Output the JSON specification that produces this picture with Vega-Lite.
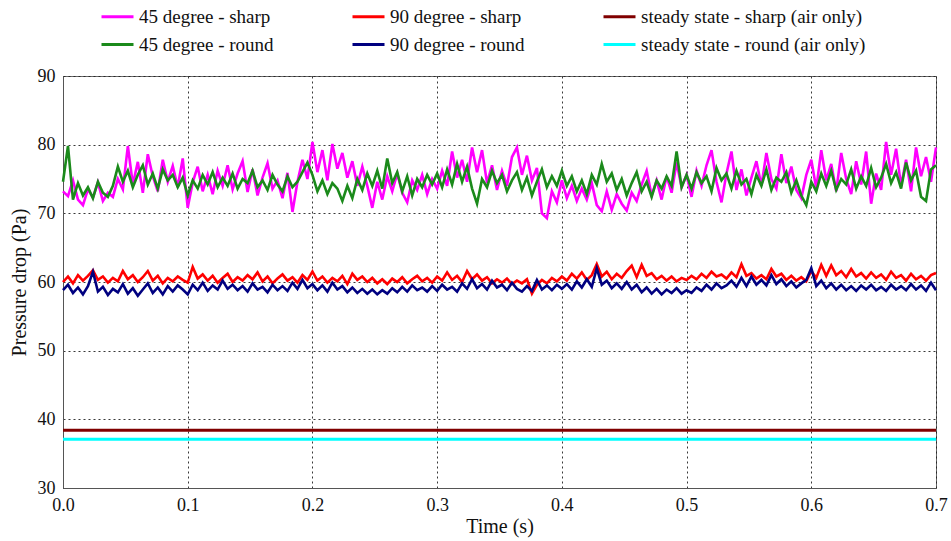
{
  "$schema": "https://vega.github.io/schema/vega-lite/v6.json",
  "width": 873,
  "height": 412,
  "autosize": {"type": "none"},
  "padding": {"left": 63, "top": 76, "right": 15, "bottom": 53},
  "background": "white",
  "config": {
    "view": {"stroke": "#666", "strokeWidth": 1},
    "font": "Liberation Serif",
    "axis": {"labelFont": "Liberation Serif", "titleFont": "Liberation Serif", "labelFontSize": 18, "titleFontSize": 20, "labelColor": "#111", "titleColor": "#111", "titleFontWeight": "normal", "domainColor": "#555", "ticks": false, "gridColor": "#222", "gridDash": [2, 3], "gridOpacity": 0.9, "gridWidth": 1}
  },
  "datasets": {
    "steady": [
      {"t": 0, "series": "steady state - sharp (air only)", "p": 38.4},
      {"t": 0.7, "series": "steady state - sharp (air only)", "p": 38.4},
      {"t": 0, "series": "steady state - round (air only)", "p": 37.1},
      {"t": 0.7, "series": "steady state - round (air only)", "p": 37.1}
    ],
    "noisy": [
{"t":0.000,"45 degree - sharp":73.2,"45 degree - round":74.6,"90 degree - sharp":60.0,"90 degree - round":58.8},
{"t":0.004,"45 degree - sharp":72.5,"45 degree - round":79.8,"90 degree - sharp":60.8,"90 degree - round":59.6},
{"t":0.008,"45 degree - sharp":74.8,"45 degree - round":72.0,"90 degree - sharp":59.8,"90 degree - round":58.4},
{"t":0.012,"45 degree - sharp":72.0,"45 degree - round":74.4,"90 degree - sharp":61.0,"90 degree - round":59.2},
{"t":0.016,"45 degree - sharp":71.2,"45 degree - round":72.6,"90 degree - sharp":60.2,"90 degree - round":58.2},
{"t":0.020,"45 degree - sharp":73.5,"45 degree - round":73.8,"90 degree - sharp":60.9,"90 degree - round":59.4},
{"t":0.024,"45 degree - sharp":72.3,"45 degree - round":72.2,"90 degree - sharp":61.7,"90 degree - round":61.5},
{"t":0.028,"45 degree - sharp":74.5,"45 degree - round":74.6,"90 degree - sharp":60.3,"90 degree - round":58.6},
{"t":0.032,"45 degree - sharp":71.8,"45 degree - round":73.0,"90 degree - sharp":60.8,"90 degree - round":59.3},
{"t":0.036,"45 degree - sharp":73.0,"45 degree - round":72.4,"90 degree - sharp":59.9,"90 degree - round":58.1},
{"t":0.040,"45 degree - sharp":72.4,"45 degree - round":74.0,"90 degree - sharp":60.6,"90 degree - round":59.0},
{"t":0.044,"45 degree - sharp":75.0,"45 degree - round":76.8,"90 degree - sharp":60.1,"90 degree - round":58.5},
{"t":0.048,"45 degree - sharp":73.5,"45 degree - round":74.6,"90 degree - sharp":61.6,"90 degree - round":59.7},
{"t":0.052,"45 degree - sharp":79.8,"45 degree - round":76.2,"90 degree - sharp":60.4,"90 degree - round":58.3},
{"t":0.056,"45 degree - sharp":74.2,"45 degree - round":73.8,"90 degree - sharp":61.0,"90 degree - round":59.1},
{"t":0.060,"45 degree - sharp":77.5,"45 degree - round":75.6,"90 degree - sharp":60.0,"90 degree - round":58.0},
{"t":0.064,"45 degree - sharp":73.0,"45 degree - round":77.0,"90 degree - sharp":60.7,"90 degree - round":58.9},
{"t":0.068,"45 degree - sharp":78.6,"45 degree - round":74.2,"90 degree - sharp":61.6,"90 degree - round":59.8},
{"t":0.072,"45 degree - sharp":75.4,"45 degree - round":75.8,"90 degree - sharp":60.2,"90 degree - round":58.4},
{"t":0.076,"45 degree - sharp":73.2,"45 degree - round":73.6,"90 degree - sharp":60.9,"90 degree - round":59.2},
{"t":0.080,"45 degree - sharp":77.8,"45 degree - round":76.4,"90 degree - sharp":59.8,"90 degree - round":58.2},
{"t":0.084,"45 degree - sharp":74.6,"45 degree - round":74.8,"90 degree - sharp":60.6,"90 degree - round":59.4},
{"t":0.088,"45 degree - sharp":76.9,"45 degree - round":75.6,"90 degree - sharp":60.1,"90 degree - round":58.6},
{"t":0.092,"45 degree - sharp":73.8,"45 degree - round":73.8,"90 degree - sharp":60.8,"90 degree - round":59.5},
{"t":0.096,"45 degree - sharp":78.0,"45 degree - round":75.2,"90 degree - sharp":60.3,"90 degree - round":58.9},
{"t":0.100,"45 degree - sharp":70.8,"45 degree - round":72.6,"90 degree - sharp":59.9,"90 degree - round":58.2},
{"t":0.104,"45 degree - sharp":74.5,"45 degree - round":74.8,"90 degree - sharp":62.2,"90 degree - round":59.6},
{"t":0.108,"45 degree - sharp":76.8,"45 degree - round":73.6,"90 degree - sharp":60.5,"90 degree - round":58.8},
{"t":0.112,"45 degree - sharp":73.2,"45 degree - round":75.6,"90 degree - sharp":61.1,"90 degree - round":59.9},
{"t":0.116,"45 degree - sharp":75.6,"45 degree - round":74.2,"90 degree - sharp":60.2,"90 degree - round":58.7},
{"t":0.120,"45 degree - sharp":72.8,"45 degree - round":76.0,"90 degree - sharp":60.9,"90 degree - round":59.5},
{"t":0.124,"45 degree - sharp":76.2,"45 degree - round":73.8,"90 degree - sharp":59.9,"90 degree - round":58.9},
{"t":0.128,"45 degree - sharp":74.0,"45 degree - round":75.2,"90 degree - sharp":60.6,"90 degree - round":60.2},
{"t":0.132,"45 degree - sharp":77.0,"45 degree - round":74.0,"90 degree - sharp":61.2,"90 degree - round":59.0},
{"t":0.136,"45 degree - sharp":73.5,"45 degree - round":75.8,"90 degree - sharp":60.0,"90 degree - round":59.6},
{"t":0.140,"45 degree - sharp":75.8,"45 degree - round":73.6,"90 degree - sharp":60.7,"90 degree - round":58.8},
{"t":0.144,"45 degree - sharp":77.6,"45 degree - round":75.0,"90 degree - sharp":60.2,"90 degree - round":59.4},
{"t":0.148,"45 degree - sharp":73.1,"45 degree - round":74.4,"90 degree - sharp":61.0,"90 degree - round":58.6},
{"t":0.152,"45 degree - sharp":76.4,"45 degree - round":76.2,"90 degree - sharp":60.4,"90 degree - round":59.8},
{"t":0.156,"45 degree - sharp":72.6,"45 degree - round":73.8,"90 degree - sharp":61.4,"90 degree - round":58.9},
{"t":0.160,"45 degree - sharp":75.2,"45 degree - round":74.8,"90 degree - sharp":60.1,"90 degree - round":59.3},
{"t":0.164,"45 degree - sharp":77.3,"45 degree - round":73.4,"90 degree - sharp":60.8,"90 degree - round":58.5},
{"t":0.168,"45 degree - sharp":73.6,"45 degree - round":75.6,"90 degree - sharp":59.8,"90 degree - round":59.6},
{"t":0.172,"45 degree - sharp":74.8,"45 degree - round":74.2,"90 degree - sharp":60.5,"90 degree - round":58.8},
{"t":0.176,"45 degree - sharp":72.2,"45 degree - round":73.2,"90 degree - sharp":61.1,"90 degree - round":59.4},
{"t":0.180,"45 degree - sharp":75.9,"45 degree - round":75.4,"90 degree - sharp":60.2,"90 degree - round":58.7},
{"t":0.184,"45 degree - sharp":70.2,"45 degree - round":73.8,"90 degree - sharp":60.7,"90 degree - round":59.9},
{"t":0.188,"45 degree - sharp":74.6,"45 degree - round":74.6,"90 degree - sharp":59.9,"90 degree - round":59.0},
{"t":0.192,"45 degree - sharp":77.8,"45 degree - round":76.0,"90 degree - sharp":61.0,"90 degree - round":60.3},
{"t":0.196,"45 degree - sharp":75.0,"45 degree - round":77.4,"90 degree - sharp":60.3,"90 degree - round":59.1},
{"t":0.200,"45 degree - sharp":80.4,"45 degree - round":75.6,"90 degree - sharp":61.5,"90 degree - round":59.7},
{"t":0.204,"45 degree - sharp":76.0,"45 degree - round":73.2,"90 degree - sharp":60.2,"90 degree - round":58.8},
{"t":0.208,"45 degree - sharp":79.2,"45 degree - round":74.8,"90 degree - sharp":60.8,"90 degree - round":59.5},
{"t":0.212,"45 degree - sharp":74.8,"45 degree - round":72.8,"90 degree - sharp":59.9,"90 degree - round":58.6},
{"t":0.216,"45 degree - sharp":80.1,"45 degree - round":74.4,"90 degree - sharp":60.6,"90 degree - round":59.9},
{"t":0.220,"45 degree - sharp":76.5,"45 degree - round":73.6,"90 degree - sharp":60.1,"90 degree - round":58.9},
{"t":0.224,"45 degree - sharp":78.8,"45 degree - round":71.8,"90 degree - sharp":60.9,"90 degree - round":59.4},
{"t":0.228,"45 degree - sharp":75.2,"45 degree - round":74.0,"90 degree - sharp":59.7,"90 degree - round":58.5},
{"t":0.232,"45 degree - sharp":77.6,"45 degree - round":72.2,"90 degree - sharp":61.2,"90 degree - round":59.2},
{"t":0.236,"45 degree - sharp":74.0,"45 degree - round":75.0,"90 degree - sharp":60.3,"90 degree - round":58.4},
{"t":0.240,"45 degree - sharp":76.8,"45 degree - round":73.4,"90 degree - sharp":60.8,"90 degree - round":59.0},
{"t":0.244,"45 degree - sharp":74.0,"45 degree - round":75.8,"90 degree - sharp":60.0,"90 degree - round":58.3},
{"t":0.248,"45 degree - sharp":70.8,"45 degree - round":74.0,"90 degree - sharp":60.6,"90 degree - round":58.9},
{"t":0.252,"45 degree - sharp":74.6,"45 degree - round":76.2,"90 degree - sharp":59.8,"90 degree - round":58.2},
{"t":0.256,"45 degree - sharp":72.0,"45 degree - round":73.6,"90 degree - sharp":60.4,"90 degree - round":58.8},
{"t":0.260,"45 degree - sharp":75.4,"45 degree - round":78.0,"90 degree - sharp":59.7,"90 degree - round":58.3},
{"t":0.264,"45 degree - sharp":73.2,"45 degree - round":74.4,"90 degree - sharp":60.5,"90 degree - round":59.1},
{"t":0.268,"45 degree - sharp":75.8,"45 degree - round":76.0,"90 degree - sharp":60.0,"90 degree - round":58.5},
{"t":0.272,"45 degree - sharp":73.0,"45 degree - round":73.2,"90 degree - sharp":60.7,"90 degree - round":59.3},
{"t":0.276,"45 degree - sharp":71.6,"45 degree - round":75.4,"90 degree - sharp":59.8,"90 degree - round":58.6},
{"t":0.280,"45 degree - sharp":74.8,"45 degree - round":72.6,"90 degree - sharp":60.4,"90 degree - round":59.5},
{"t":0.284,"45 degree - sharp":73.4,"45 degree - round":75.0,"90 degree - sharp":60.9,"90 degree - round":58.8},
{"t":0.288,"45 degree - sharp":75.6,"45 degree - round":73.8,"90 degree - sharp":60.1,"90 degree - round":59.2},
{"t":0.292,"45 degree - sharp":72.8,"45 degree - round":75.6,"90 degree - sharp":60.6,"90 degree - round":58.6},
{"t":0.296,"45 degree - sharp":75.0,"45 degree - round":74.2,"90 degree - sharp":59.9,"90 degree - round":59.4},
{"t":0.300,"45 degree - sharp":73.6,"45 degree - round":75.8,"90 degree - sharp":60.8,"90 degree - round":58.7},
{"t":0.304,"45 degree - sharp":76.2,"45 degree - round":73.8,"90 degree - sharp":60.2,"90 degree - round":59.6},
{"t":0.308,"45 degree - sharp":74.0,"45 degree - round":76.4,"90 degree - sharp":61.4,"90 degree - round":58.9},
{"t":0.312,"45 degree - sharp":79.0,"45 degree - round":74.2,"90 degree - sharp":60.3,"90 degree - round":59.3},
{"t":0.316,"45 degree - sharp":75.2,"45 degree - round":77.2,"90 degree - sharp":60.9,"90 degree - round":58.6},
{"t":0.320,"45 degree - sharp":77.8,"45 degree - round":74.6,"90 degree - sharp":60.0,"90 degree - round":59.8},
{"t":0.324,"45 degree - sharp":74.6,"45 degree - round":76.8,"90 degree - sharp":61.6,"90 degree - round":59.0},
{"t":0.328,"45 degree - sharp":79.6,"45 degree - round":73.6,"90 degree - sharp":60.4,"90 degree - round":60.4},
{"t":0.332,"45 degree - sharp":76.0,"45 degree - round":71.4,"90 degree - sharp":61.1,"90 degree - round":59.1},
{"t":0.336,"45 degree - sharp":79.2,"45 degree - round":75.0,"90 degree - sharp":60.2,"90 degree - round":59.7},
{"t":0.340,"45 degree - sharp":74.4,"45 degree - round":73.8,"90 degree - sharp":60.7,"90 degree - round":58.9},
{"t":0.344,"45 degree - sharp":77.0,"45 degree - round":76.2,"90 degree - sharp":59.8,"90 degree - round":60.2},
{"t":0.348,"45 degree - sharp":73.4,"45 degree - round":74.4,"90 degree - sharp":60.4,"90 degree - round":59.2},
{"t":0.352,"45 degree - sharp":76.2,"45 degree - round":75.6,"90 degree - sharp":59.9,"90 degree - round":59.6},
{"t":0.356,"45 degree - sharp":74.0,"45 degree - round":73.2,"90 degree - sharp":60.5,"90 degree - round":58.8},
{"t":0.360,"45 degree - sharp":78.2,"45 degree - round":74.8,"90 degree - sharp":59.7,"90 degree - round":59.9},
{"t":0.364,"45 degree - sharp":79.6,"45 degree - round":76.0,"90 degree - sharp":60.2,"90 degree - round":59.0},
{"t":0.368,"45 degree - sharp":75.6,"45 degree - round":73.4,"90 degree - sharp":59.8,"90 degree - round":58.6},
{"t":0.372,"45 degree - sharp":78.4,"45 degree - round":75.2,"90 degree - sharp":60.4,"90 degree - round":59.4},
{"t":0.376,"45 degree - sharp":74.8,"45 degree - round":72.6,"90 degree - sharp":58.3,"90 degree - round":58.7},
{"t":0.380,"45 degree - sharp":76.6,"45 degree - round":74.6,"90 degree - sharp":59.6,"90 degree - round":60.3},
{"t":0.384,"45 degree - sharp":70.0,"45 degree - round":76.4,"90 degree - sharp":60.3,"90 degree - round":58.9},
{"t":0.388,"45 degree - sharp":69.3,"45 degree - round":73.8,"90 degree - sharp":59.8,"90 degree - round":59.5},
{"t":0.392,"45 degree - sharp":73.2,"45 degree - round":75.4,"90 degree - sharp":60.6,"90 degree - round":58.8},
{"t":0.396,"45 degree - sharp":71.6,"45 degree - round":74.0,"90 degree - sharp":60.1,"90 degree - round":59.6},
{"t":0.400,"45 degree - sharp":74.8,"45 degree - round":76.2,"90 degree - sharp":60.8,"90 degree - round":59.0},
{"t":0.404,"45 degree - sharp":72.2,"45 degree - round":74.0,"90 degree - sharp":60.2,"90 degree - round":59.7},
{"t":0.408,"45 degree - sharp":74.0,"45 degree - round":75.4,"90 degree - sharp":61.2,"90 degree - round":58.9},
{"t":0.412,"45 degree - sharp":71.8,"45 degree - round":73.2,"90 degree - sharp":60.5,"90 degree - round":60.1},
{"t":0.416,"45 degree - sharp":73.6,"45 degree - round":74.8,"90 degree - sharp":61.4,"90 degree - round":59.2},
{"t":0.420,"45 degree - sharp":72.0,"45 degree - round":72.8,"90 degree - sharp":60.3,"90 degree - round":60.4},
{"t":0.424,"45 degree - sharp":74.4,"45 degree - round":75.6,"90 degree - sharp":61.0,"90 degree - round":59.3},
{"t":0.428,"45 degree - sharp":71.2,"45 degree - round":74.2,"90 degree - sharp":62.6,"90 degree - round":62.0},
{"t":0.432,"45 degree - sharp":70.3,"45 degree - round":77.2,"90 degree - sharp":60.8,"90 degree - round":59.6},
{"t":0.436,"45 degree - sharp":73.2,"45 degree - round":74.6,"90 degree - sharp":61.5,"90 degree - round":60.2},
{"t":0.440,"45 degree - sharp":70.5,"45 degree - round":75.8,"90 degree - sharp":60.4,"90 degree - round":59.1},
{"t":0.444,"45 degree - sharp":72.8,"45 degree - round":73.4,"90 degree - sharp":61.2,"90 degree - round":59.8},
{"t":0.448,"45 degree - sharp":71.4,"45 degree - round":75.0,"90 degree - sharp":60.6,"90 degree - round":59.0},
{"t":0.452,"45 degree - sharp":70.4,"45 degree - round":72.6,"90 degree - sharp":61.6,"90 degree - round":60.0},
{"t":0.456,"45 degree - sharp":73.0,"45 degree - round":74.4,"90 degree - sharp":62.4,"90 degree - round":58.9},
{"t":0.460,"45 degree - sharp":71.8,"45 degree - round":76.0,"90 degree - sharp":60.7,"90 degree - round":59.6},
{"t":0.464,"45 degree - sharp":74.2,"45 degree - round":73.2,"90 degree - sharp":62.5,"90 degree - round":58.5},
{"t":0.468,"45 degree - sharp":76.2,"45 degree - round":74.6,"90 degree - sharp":60.9,"90 degree - round":59.2},
{"t":0.472,"45 degree - sharp":72.6,"45 degree - round":72.4,"90 degree - sharp":61.3,"90 degree - round":58.3},
{"t":0.476,"45 degree - sharp":74.8,"45 degree - round":74.8,"90 degree - sharp":60.4,"90 degree - round":59.0},
{"t":0.480,"45 degree - sharp":72.0,"45 degree - round":73.6,"90 degree - sharp":60.9,"90 degree - round":58.2},
{"t":0.484,"45 degree - sharp":75.4,"45 degree - round":75.4,"90 degree - sharp":60.2,"90 degree - round":58.9},
{"t":0.488,"45 degree - sharp":73.0,"45 degree - round":74.0,"90 degree - sharp":60.8,"90 degree - round":58.4},
{"t":0.492,"45 degree - sharp":77.4,"45 degree - round":79.0,"90 degree - sharp":60.1,"90 degree - round":59.1},
{"t":0.496,"45 degree - sharp":73.8,"45 degree - round":73.8,"90 degree - sharp":60.6,"90 degree - round":58.3},
{"t":0.500,"45 degree - sharp":75.6,"45 degree - round":75.6,"90 degree - sharp":60.3,"90 degree - round":58.8},
{"t":0.504,"45 degree - sharp":72.4,"45 degree - round":73.6,"90 degree - sharp":60.9,"90 degree - round":58.4},
{"t":0.508,"45 degree - sharp":76.2,"45 degree - round":76.0,"90 degree - sharp":60.4,"90 degree - round":59.2},
{"t":0.512,"45 degree - sharp":74.0,"45 degree - round":74.4,"90 degree - sharp":61.2,"90 degree - round":58.7},
{"t":0.516,"45 degree - sharp":77.0,"45 degree - round":75.4,"90 degree - sharp":60.6,"90 degree - round":59.6},
{"t":0.520,"45 degree - sharp":79.2,"45 degree - round":73.2,"90 degree - sharp":61.5,"90 degree - round":58.9},
{"t":0.524,"45 degree - sharp":74.6,"45 degree - round":76.6,"90 degree - sharp":60.8,"90 degree - round":59.8},
{"t":0.528,"45 degree - sharp":71.6,"45 degree - round":74.8,"90 degree - sharp":61.1,"90 degree - round":59.1},
{"t":0.532,"45 degree - sharp":75.8,"45 degree - round":75.8,"90 degree - sharp":60.5,"90 degree - round":59.5},
{"t":0.536,"45 degree - sharp":79.0,"45 degree - round":73.6,"90 degree - sharp":61.4,"90 degree - round":60.2},
{"t":0.540,"45 degree - sharp":73.4,"45 degree - round":76.2,"90 degree - sharp":60.7,"90 degree - round":59.3},
{"t":0.544,"45 degree - sharp":76.4,"45 degree - round":74.2,"90 degree - sharp":62.6,"90 degree - round":60.6},
{"t":0.548,"45 degree - sharp":72.6,"45 degree - round":75.0,"90 degree - sharp":60.9,"90 degree - round":59.4},
{"t":0.552,"45 degree - sharp":75.2,"45 degree - round":72.8,"90 degree - sharp":61.3,"90 degree - round":60.8},
{"t":0.556,"45 degree - sharp":77.6,"45 degree - round":75.6,"90 degree - sharp":60.5,"90 degree - round":59.6},
{"t":0.560,"45 degree - sharp":74.0,"45 degree - round":74.0,"90 degree - sharp":61.0,"90 degree - round":60.3},
{"t":0.564,"45 degree - sharp":78.8,"45 degree - round":76.4,"90 degree - sharp":60.4,"90 degree - round":59.5},
{"t":0.568,"45 degree - sharp":75.0,"45 degree - round":73.4,"90 degree - sharp":61.9,"90 degree - round":61.0},
{"t":0.572,"45 degree - sharp":73.6,"45 degree - round":75.2,"90 degree - sharp":60.8,"90 degree - round":59.7},
{"t":0.576,"45 degree - sharp":78.6,"45 degree - round":74.6,"90 degree - sharp":61.2,"90 degree - round":60.4},
{"t":0.580,"45 degree - sharp":74.4,"45 degree - round":76.0,"90 degree - sharp":60.3,"90 degree - round":59.4},
{"t":0.584,"45 degree - sharp":76.8,"45 degree - round":73.0,"90 degree - sharp":60.9,"90 degree - round":60.1},
{"t":0.588,"45 degree - sharp":73.4,"45 degree - round":74.8,"90 degree - sharp":60.2,"90 degree - round":59.2},
{"t":0.592,"45 degree - sharp":72.2,"45 degree - round":72.6,"90 degree - sharp":60.7,"90 degree - round":59.8},
{"t":0.596,"45 degree - sharp":75.6,"45 degree - round":71.2,"90 degree - sharp":60.1,"90 degree - round":60.3},
{"t":0.600,"45 degree - sharp":77.8,"45 degree - round":74.6,"90 degree - sharp":61.6,"90 degree - round":62.0},
{"t":0.604,"45 degree - sharp":73.6,"45 degree - round":73.2,"90 degree - sharp":60.6,"90 degree - round":59.4},
{"t":0.608,"45 degree - sharp":79.2,"45 degree - round":75.8,"90 degree - sharp":62.5,"90 degree - round":60.2},
{"t":0.612,"45 degree - sharp":74.8,"45 degree - round":74.0,"90 degree - sharp":60.9,"90 degree - round":59.1},
{"t":0.616,"45 degree - sharp":77.2,"45 degree - round":76.2,"90 degree - sharp":62.4,"90 degree - round":59.8},
{"t":0.620,"45 degree - sharp":73.2,"45 degree - round":73.4,"90 degree - sharp":61.0,"90 degree - round":58.9},
{"t":0.624,"45 degree - sharp":78.8,"45 degree - round":75.0,"90 degree - sharp":61.6,"90 degree - round":59.6},
{"t":0.628,"45 degree - sharp":75.0,"45 degree - round":74.2,"90 degree - sharp":60.7,"90 degree - round":58.8},
{"t":0.632,"45 degree - sharp":72.8,"45 degree - round":76.4,"90 degree - sharp":61.9,"90 degree - round":59.4},
{"t":0.636,"45 degree - sharp":77.6,"45 degree - round":73.6,"90 degree - sharp":60.8,"90 degree - round":58.7},
{"t":0.640,"45 degree - sharp":74.2,"45 degree - round":75.4,"90 degree - sharp":61.3,"90 degree - round":59.5},
{"t":0.644,"45 degree - sharp":79.0,"45 degree - round":74.0,"90 degree - sharp":60.5,"90 degree - round":58.9},
{"t":0.648,"45 degree - sharp":71.4,"45 degree - round":76.6,"90 degree - sharp":61.4,"90 degree - round":59.6},
{"t":0.652,"45 degree - sharp":75.8,"45 degree - round":73.8,"90 degree - sharp":60.6,"90 degree - round":58.8},
{"t":0.656,"45 degree - sharp":73.4,"45 degree - round":75.2,"90 degree - sharp":61.1,"90 degree - round":59.3},
{"t":0.660,"45 degree - sharp":80.4,"45 degree - round":77.2,"90 degree - sharp":60.3,"90 degree - round":58.7},
{"t":0.664,"45 degree - sharp":75.6,"45 degree - round":74.4,"90 degree - sharp":61.5,"90 degree - round":59.6},
{"t":0.668,"45 degree - sharp":79.4,"45 degree - round":76.0,"90 degree - sharp":60.6,"90 degree - round":58.9},
{"t":0.672,"45 degree - sharp":74.0,"45 degree - round":73.6,"90 degree - sharp":61.0,"90 degree - round":59.4},
{"t":0.676,"45 degree - sharp":77.8,"45 degree - round":77.4,"90 degree - sharp":60.2,"90 degree - round":58.8},
{"t":0.680,"45 degree - sharp":73.2,"45 degree - round":74.8,"90 degree - sharp":61.2,"90 degree - round":59.7},
{"t":0.684,"45 degree - sharp":79.6,"45 degree - round":76.2,"90 degree - sharp":60.4,"90 degree - round":58.9},
{"t":0.688,"45 degree - sharp":75.4,"45 degree - round":72.4,"90 degree - sharp":60.9,"90 degree - round":59.5},
{"t":0.692,"45 degree - sharp":78.2,"45 degree - round":71.8,"90 degree - sharp":60.2,"90 degree - round":58.7},
{"t":0.696,"45 degree - sharp":74.6,"45 degree - round":76.4,"90 degree - sharp":61.0,"90 degree - round":59.9},
{"t":0.700,"45 degree - sharp":79.6,"45 degree - round":77.0,"90 degree - sharp":61.3,"90 degree - round":58.8}
    ]
  },
  "encoding": {
    "x": {"field": "t", "type": "quantitative", "scale": {"domain": [0, 0.7], "nice": false}, "axis": {"title": "Time (s)", "values": [0, 0.1, 0.2, 0.3, 0.4, 0.5, 0.6, 0.7], "format": ".1f", "labelPadding": 8, "titlePadding": 2, "labelFlush": false}},
    "y": {"field": "p", "type": "quantitative", "scale": {"domain": [30, 90], "nice": false}, "axis": {"title": "Pressure drop (Pa)", "values": [30, 40, 50, 60, 70, 80, 90], "labelPadding": 8, "titlePadding": 8}},
    "color": {
      "field": "series", "type": "nominal",
      "scale": {
        "domain": ["45 degree - sharp", "90 degree - sharp", "steady state - sharp (air only)", "45 degree - round", "90 degree - round", "steady state - round (air only)"],
        "range": ["#ff00ff", "#ff0000", "#800000", "#1b8a1b", "#000080", "#00ffff"]
      },
      "legend": {"orient": "none", "legendX": 37, "legendY": -77, "direction": "horizontal", "columns": 3, "title": null, "symbolType": "stroke", "symbolSize": 1024, "symbolStrokeWidth": 3, "labelFont": "Liberation Serif", "labelFontSize": 19, "labelColor": "#111", "labelOffset": 4, "columnPadding": 72, "rowPadding": -4, "labelLimit": 400}
    }
  },
  "layer": [
    {
      "data": {"name": "noisy"},
      "transform": [
        {"fold": ["45 degree - sharp", "90 degree - sharp"], "as": ["series", "p"]}
      ],
      "mark": {"type": "line", "strokeWidth": 2.6}
    },
    {
      "data": {"name": "noisy"},
      "transform": [
        {"fold": ["45 degree - round", "90 degree - round"], "as": ["series", "p"]}
      ],
      "mark": {"type": "line", "strokeWidth": 2.6}
    },
    {
      "data": {"name": "steady"},
      "mark": {"type": "line", "strokeWidth": 3}
    }
  ]
}
